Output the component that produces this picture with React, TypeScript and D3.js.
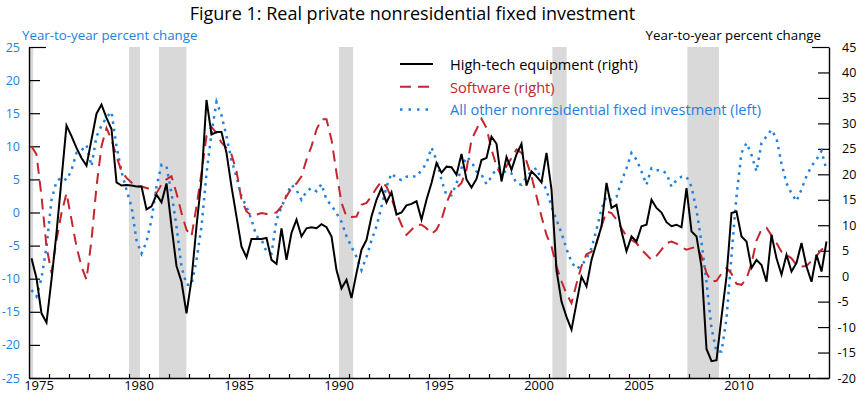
import React, { useEffect, useRef } from 'react';
import * as d3 from 'd3';

// quarterly, 1975Q1 .. 2014Q4
const startYear = 1975;

// High-tech equipment, right axis
const highTech = [
  3.5, -0.4, -7.3, -9.1, -0.7, 8.5, 19, 29.6, 27.5, 25.2, 23.2, 21.7, 26.8, 31.9, 33.7, 31.1,
  28.9, 18.4, 17.8, 17.9, 17.8, 17.6, 17.6, 13.1, 13.7, 16, 14.5, 18.2, 9.8, 2, -1.1, -7.3,
  -0.7, 9.8, 19, 34.6, 27.8, 28.3, 28.3, 24.2, 17.6, 11.7, 5.8, 3.7, 7.3, 7.3, 7.3, 7.5,
  3.2, 2.4, 9.4, 3.2, 8.5, 11.1, 7.8, 9.4, 9.6, 9.4, 10.2, 9.6, 7.8, 1.2, -2.4, -0.7,
  -4.3, 0.6, 5.2, 7.1, 11.7, 15, 17.3, 14.5, 16.5, 12.1, 12.5, 13.9, 14.2, 14.7, 11.1, 15,
  18.3, 22.2, 20.3, 21.5, 21.4, 19.9, 24, 19, 17.4, 19.1, 22.8, 23.2, 27.4, 26, 18.6, 23.4,
  20.9, 23.9, 26, 17.8, 20.6, 19.6, 18.4, 24.2, 17, 1.2, -5, -8, -10.5, -5.3, -0.1, -2,
  3.2, 6.5, 9.8, 18.3, 13.4, 14, 8.8, 4.9, 7.8, 6.8, 9.8, 10.1, 15, 13.4, 12.5, 10.6,
  9.8, 10.1, 9.6, 17.3, 8.8, 7.8, 1.9, -14.3, -16.7, -16.5, -8, -0.1, 12.4, 12.7, 7.8, 6.8,
  1.6, 3.2, 2.2, -1.1, 8.1, 3.5, 0.3, 4.2, 0.9, 2.6, 6.5, 1.9, -1.1, 4.2, 0.9, 6.8,
];

// Software, right axis
const software = [
  25.5, 23.9, 15.7, 5.8, 0.6, 7.1, 12.4, 16.3, 11.1, 5.8, 1.9, -0.7, 7.1, 17.6, 25.5, 29.1,
  26.8, 23.5, 20.6, 19.3, 18.4, 17.6, 17.6, 17.3, 17, 16.3, 18, 19, 19.6, 16.3, 12.4, 9.1,
  7.8, 13.7, 20.3, 27.5, 29.3, 28.1, 26.2, 25.2, 23.9, 20.6, 15, 12.7, 11.9, 12.1, 12.4, 12.2,
  12.4, 12.5, 13.7, 15.7, 17.3, 18.2, 19.6, 22.9, 25.5, 28.8, 30.8, 30.8, 26.8, 20.3, 14.4, 11.7,
  11.6, 11.7, 14, 14.4, 15.7, 17.3, 18.6, 17.6, 15.3, 12.4, 10.1, 8.1, 9.1, 10.1, 10.1, 9.4,
  8.3, 9.1, 11.1, 14.4, 16.7, 17.3, 18.3, 20.9, 26.8, 28.8, 30.9, 29.1, 24.9, 21.6, 19.6, 21.6,
  23.2, 24.9, 24.2, 22.6, 19.6, 15.7, 11.7, 8.1, 5.8, 1.9, -1, -3.5, -5.3, -1.5, 2, 4.3,
  4.8, 6.5, 9.8, 12.7, 12.4, 11.1, 9.4, 7.8, 7.1, 6.5, 5.2, 4.2, 3.2, 4, 5.2, 6.5,
  6.8, 6.4, 5.7, 5.2, 5.5, 5.8, 3.9, 0.6, -1.1, -0.9, 0.5, 1.6, 0.5, -1.5, -1.7, -0.5,
  2.5, 7, 9.2, 9.5, 8, 6.5, 4.8, 4.2, 3.5, 2.2, 1.9, 2, 3, 4, 5.2, 5.8,
];

// All other nonresidential fixed investment, left axis
const allOther = [
  -11.7, -12.7, -9.9, -5.2, 1.9, 4.7, 5.3, 4.9, 6.4, 9, 9.4, 10.2, 7, 11.5, 13.1, 14.4,
  15.2, 10, 6.2, 3.4, 0.9, -4.2, -6.2, -4.4, -1.1, 3.9, 7.2, 7, 2.9, -2.1, -8.2, -10.9,
  -10.9, -7.2, -2.1, 5.9, 12, 16.7, 14.7, 11.5, 7.9, 5.4, 2.4, 0.9, -1.1, -3.6, -4.1, -5.9,
  -6.2, -1.1, 0.8, 2.6, 4.2, 3.4, 1.9, 3.2, 3.7, 3.2, 4.3, 1.9, 1.1, -0.1, -1.4, -3.6,
  -5.2, -6.7, -8.7, -6.7, -4.2, -2.1, 0.9, 3.9, 5.9, 5.2, 4.9, 5.4, 5.5, 5.4, 6.4, 7.4,
  9.8, 7.9, 4.9, 2.6, 2.6, 4.4, 6.7, 8.4, 7.7, 6.2, 5.7, 4.3, 5.4, 6.7, 6.7, 5.9,
  5.9, 4.4, 4.2, 5.4, 6.2, 6.7, 4.9, 3.4, 0.9, -1.1, -3.1, -5.5, -7.5, -8.5, -8, -7,
  -5.4, -2.6, 0.6, 2.4, 1.9, 2.4, 4.7, 6.7, 9, 8, 6.2, 4.2, 6.7, 6.4, 6.4, 5.9,
  3.9, 4.9, 5.4, 5.4, 3.9, 0.4, -4.5, -10.5, -17.5, -21, -21, -16, -6.5, 2.5, 9, 10.5,
  8.7, 6.2, 10.5, 11.5, 12.5, 11.2, 7.4, 4.4, 2.9, 1.7, 3.5, 5.5, 7, 8, 9.3, 6.4,
];

// NBER recessions, fractional years
const recessions = [
  [1973.83, 1975.21],
  [1980.0, 1980.55],
  [1981.5, 1982.87],
  [1990.5, 1991.21],
  [2001.17, 2001.88],
  [2007.92, 2009.5],
];

const leftTicks = [-25, -20, -15, -10, -5, 0, 5, 10, 15, 20, 25];
const rightTicks = [-20, -15, -10, -5, 0, 5, 10, 15, 20, 25, 30, 35, 40, 45];
const yearLabels = [1975, 1980, 1985, 1990, 1995, 2000, 2005, 2010];

const BLUE = '#1f80e0';
const RED = '#c4262e';
const FONT = '"Open Sans", sans-serif';

const legendItems = [
  { label: 'High-tech equipment (right)', color: '#000000', dash: null, width: 2 },
  { label: 'Software (right)', color: RED, dash: '11,7', width: 2 },
  { label: 'All other nonresidential fixed investment (left)', color: BLUE, dash: '2.5,6', width: 2.5 },
];

const App = () => {
  const ref = useRef(null);

  useEffect(() => {
    const width = 857;
    const height = 394;
    const margin = { top: 47, right: 28, bottom: 16, left: 29 };

    const svg = d3.select(ref.current);
    svg.selectAll('*').remove();
    svg.attr('width', width).attr('height', height);

    const x = d3.scaleLinear()
      .domain([1975, 2015])
      .range([margin.left, width - margin.right]);

    const yL = d3.scaleLinear()
      .domain([-25, 25])
      .range([height - margin.bottom, margin.top]);

    const yR = d3.scaleLinear()
      .domain([-20, 45])
      .range([height - margin.bottom, margin.top]);

    const dates = highTech.map((_, i) => startYear + i / 4 + 0.125);

    // recession bars
    svg.append('g')
      .selectAll('rect')
      .data(recessions)
      .enter()
      .append('rect')
      .attr('x', d => x(Math.max(d[0], 1975)))
      .attr('width', d => x(d[1]) - x(Math.max(d[0], 1975)))
      .attr('y', yL(25))
      .attr('height', yL(-25) - yL(25))
      .attr('fill', '#d9d9d9');

    // axes
    const gL = svg.append('g')
      .attr('transform', `translate(${margin.left},0)`)
      .call(d3.axisLeft(yL).tickValues(leftTicks).tickSize(-11).tickSizeOuter(0).tickPadding(9)
        .tickFormat(d => String(d)));
    gL.selectAll('.tick line').filter(d => d === 25).attr('x2', 17);
    gL.selectAll('text').attr('fill', BLUE);

    const gR = svg.append('g')
      .attr('transform', `translate(${width - margin.right},0)`)
      .call(d3.axisRight(yR).tickValues(rightTicks).tickSize(-11).tickSizeOuter(0).tickPadding(13)
        .tickFormat(d => String(d)));
    gR.selectAll('.tick line').filter(d => d === 45).attr('x2', -17);
    gR.selectAll('text').attr('fill', '#000').attr('x', d => (d < 0 ? 8.5 : 13));

    const gB = svg.append('g')
      .attr('transform', `translate(0,${height - margin.bottom})`)
      .call(d3.axisBottom(x).tickValues(d3.range(1976, 2015)).tickSize(-4).tickSizeOuter(0).tickFormat(() => ''));

    svg.selectAll('.domain').attr('stroke', '#000').attr('stroke-width', 1.4);
    svg.selectAll('.tick line').attr('stroke', '#000').attr('stroke-width', 1.2);
    svg.selectAll('.tick text').attr('font-family', FONT).attr('font-size', 12.5);
    gB.select('.domain').attr('stroke-width', 1.4);

    svg.append('g')
      .selectAll('text')
      .data(yearLabels)
      .enter()
      .append('text')
      .attr('x', d => x(d + 0.5))
      .attr('y', height - 4.5)
      .attr('text-anchor', 'middle')
      .attr('font-family', FONT)
      .attr('font-size', 13)
      .attr('fill', '#000')
      .text(d => d);

    // series
    const lineL = d3.line().x((d, i) => x(dates[i])).y(d => yL(d));
    const lineR = d3.line().x((d, i) => x(dates[i])).y(d => yR(d));

    svg.append('path')
      .datum(allOther)
      .attr('d', lineL)
      .attr('fill', 'none')
      .attr('stroke', BLUE)
      .attr('stroke-width', 2.5)
      .attr('stroke-dasharray', '2.5,5');

    svg.append('path')
      .datum(software)
      .attr('d', lineR)
      .attr('fill', 'none')
      .attr('stroke', RED)
      .attr('stroke-width', 2)
      .attr('stroke-dasharray', '11,7');

    svg.append('path')
      .datum(highTech)
      .attr('d', lineR)
      .attr('fill', 'none')
      .attr('stroke', '#000')
      .attr('stroke-width', 2)
      .attr('stroke-linejoin', 'miter');

    // titles
    svg.append('text')
      .attr('x', 412.5)
      .attr('y', 19.5)
      .attr('text-anchor', 'middle')
      .attr('font-family', FONT)
      .attr('font-size', 18)
      .attr('fill', '#000')
      .text('Figure 1: Real private nonresidential fixed investment');

    svg.append('text')
      .attr('x', 22)
      .attr('y', 40)
      .attr('font-family', FONT)
      .attr('font-size', 13.3)
      .attr('fill', BLUE)
      .text('Year-to-year percent change');

    svg.append('text')
      .attr('x', 821)
      .attr('y', 40)
      .attr('text-anchor', 'end')
      .attr('font-family', FONT)
      .attr('font-size', 13.3)
      .attr('fill', '#000')
      .text('Year-to-year percent change');

    // legend
    const lg = svg.append('g').attr('transform', 'translate(400,64)');
    const item = lg.selectAll('g')
      .data(legendItems)
      .enter()
      .append('g')
      .attr('transform', (d, i) => `translate(0,${i * 22.7})`);
    item.append('line')
      .attr('x1', 0)
      .attr('x2', 33)
      .attr('stroke', d => d.color)
      .attr('stroke-width', d => d.width)
      .attr('stroke-dasharray', d => d.dash);
    item.append('text')
      .attr('x', 50)
      .attr('y', 6)
      .attr('font-family', FONT)
      .attr('font-size', 14.6)
      .attr('fill', d => d.color)
      .text(d => d.label);
  }, []);

  return <svg ref={ref} style={{ position: 'absolute', left: 0, top: 0 }}></svg>;
};

export default App;
